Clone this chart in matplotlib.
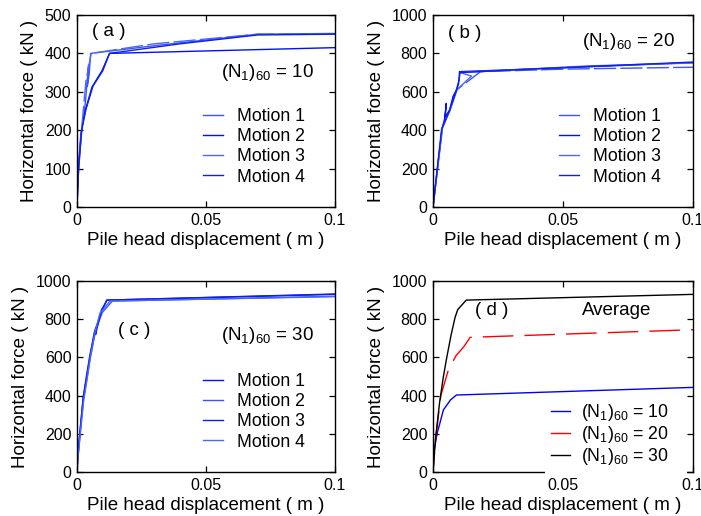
import matplotlib
matplotlib.use("Agg")
import matplotlib.pyplot as plt
from matplotlib.patches import Rectangle
from matplotlib.lines import Line2D

plt.rcParams["font.family"] = ["Liberation Sans", "DejaVu Sans"]
plt.rcParams["mathtext.fontset"] = "custom"
plt.rcParams["mathtext.rm"] = "Liberation Sans"
plt.rcParams["mathtext.it"] = "Liberation Sans"
plt.rcParams["mathtext.bf"] = "Liberation Sans"

# ---------------- data: pile head displacement (m) vs horizontal force (kN)
# (a) (N1)60 = 10
a_m1_x = [0, 0.0003, 0.0012, 0.0020, 0.0032, 0.0045, 0.0040, 0.0047, 0.0053, 0.030, 0.070, 0.100]
a_m1_y = [0, 60, 150, 210, 270, 370, 315, 345, 400, 420, 450, 452]
a_m2_x = [0, 0.0005, 0.0015, 0.0032, 0.0058, 0.0097, 0.0126, 0.100]
a_m2_y = [0, 100, 190, 251, 312, 355, 400, 415]
a_m3_x = [0, 0.0004, 0.0015, 0.0026, 0.0035, 0.0055, 0.030, 0.070, 0.100]
a_m3_y = [0, 80, 180, 265, 330, 400, 425, 450, 451]
a_m4_x = [0, 0.0006, 0.0018, 0.0035, 0.0062, 0.0100, 0.0126, 0.040, 0.070, 0.100]
a_m4_y = [0, 100, 200, 255, 315, 355, 400, 425, 448, 450]

# (b) (N1)60 = 20
b_m1_x = [0, 0.0035, 0.0064, 0.0090, 0.0183, 0.050, 0.100]
b_m1_y = [0, 410, 505, 609, 705, 718, 728]
b_m2_x = [0, 0.0035, 0.0045, 0.0051, 0.0047, 0.0064, 0.0077, 0.0090, 0.0100, 0.0102, 0.050, 0.100]
b_m2_y = [0, 409, 461, 540, 470, 505, 576, 609, 661, 705, 725, 752]
b_m3_x = [0, 0.0037, 0.0066, 0.0093, 0.0148, 0.0105, 0.060, 0.100]
b_m3_y = [0, 415, 505, 612, 682, 700, 735, 750]
b_m4_x = [0, 0.0033, 0.0063, 0.0088, 0.0098, 0.0104, 0.040, 0.100]
b_m4_y = [0, 405, 500, 600, 640, 700, 720, 755]

# (c) (N1)60 = 30
c_m1_x = [0, 0.0003, 0.0012, 0.0024, 0.0038, 0.0050, 0.0070, 0.0096, 0.0115, 0.100]
c_m1_y = [0, 80, 215, 388, 500, 600, 744, 840, 900, 930]
c_m2_x = [0, 0.0004, 0.0013, 0.0025, 0.0040, 0.0052, 0.0072, 0.0098, 0.0137, 0.100]
c_m2_y = [0, 80, 210, 380, 500, 600, 740, 835, 895, 920]
c_m3_x = [0, 0.0003, 0.0012, 0.0024, 0.0037, 0.0049, 0.0068, 0.0075, 0.0072, 0.0095, 0.0117, 0.100]
c_m3_y = [0, 85, 220, 390, 505, 605, 735, 745, 720, 850, 900, 932]
c_m4_x = [0, 0.0004, 0.0013, 0.0026, 0.0040, 0.0051, 0.0071, 0.0089, 0.0101, 0.0128, 0.100]
c_m4_y = [0, 75, 205, 375, 495, 598, 738, 832, 850, 895, 918]

# (d) averages
d_n10_x = [0, 0.0004, 0.0016, 0.0040, 0.0067, 0.0090, 0.100]
d_n10_y = [0, 110, 202, 325, 377, 403, 443]
d_n20_x = [0, 0.0010, 0.0030, 0.0059, 0.0089, 0.0118, 0.0143, 0.100]
d_n20_y = [0, 170, 400, 534, 610, 655, 705, 745]
d_n30_x = [0, 0.0010, 0.0025, 0.0040, 0.0053, 0.0070, 0.0085, 0.0095, 0.0128, 0.100]
d_n30_y = [0, 180, 360, 500, 600, 720, 810, 850, 900, 930]

motion_labels = ["Motion 1", "Motion 2", "Motion 3", "Motion 4"]
avg_labels = [r"(N$_1$)$_{60}$ = 10", r"(N$_1$)$_{60}$ = 20", r"(N$_1$)$_{60}$ = 30"]
xticks = [0, 0.05, 0.1]
xticklabels = ["0", "0.05", "0.1"]

TICK_FS = 11.5
LABEL_FS = 13.5
LEG_FS = 12.7
NOTE_FS = 13.5

fig = plt.figure(figsize=(7.01, 5.16), dpi=100)
W, H = 701.0, 516.0


def make_axes(left, right, top, bottom):
    return fig.add_axes([left / W, 1 - bottom / H, (right - left) / W, (bottom - top) / H])


ax_a = make_axes(77, 335, 15, 207)
ax_b = make_axes(433, 693, 15, 207)
ax_c = make_axes(77, 335, 281, 472)
ax_d = make_axes(433, 693, 281, 472)


def style(ax, ymax, ystep):
    ax.set_xlim(0, 0.1)
    ax.set_ylim(0, ymax)
    ax.set_xticks(xticks)
    ax.set_xticklabels(xticklabels)
    ax.set_yticks(list(range(0, ymax + 1, ystep)))
    ax.tick_params(direction="in", top=True, right=True, length=4, width=0.9,
                   labelsize=TICK_FS, pad=4)
    for s in ax.spines.values():
        s.set_linewidth(1.0)
    ax.set_xlabel("Pile head displacement ( m )", fontsize=LABEL_FS, labelpad=3)
    ax.set_ylabel("Horizontal force ( kN )", fontsize=LABEL_FS, labelpad=5)


def solid_handles(lines):
    # legend keys are drawn as short solid strokes in each curve's colour
    return [Line2D([], [], color=ln.get_color(), lw=1.0) for ln in lines]


blues = ["#3a55ff", "#0010ff", "#4a66ff", "#1020e0"]
long_dash = (0, (16, 3))

# (a)
la = [
    ax_a.plot(a_m1_x, a_m1_y, color=blues[0], lw=1.0)[0],
    ax_a.plot(a_m2_x, a_m2_y, color=blues[1], lw=1.0)[0],
    ax_a.plot(a_m3_x, a_m3_y, color=blues[2], lw=1.0, ls=long_dash)[0],
    ax_a.plot(a_m4_x, a_m4_y, color=blues[3], lw=1.0)[0],
]
style(ax_a, 500, 100)
ax_a.text(0.006, 458, "( a )", fontsize=NOTE_FS, va="center", ha="left")
ax_a.text(0.056, 349, r"(N$_1$)$_{60}$ = 10", fontsize=NOTE_FS, va="center", ha="left")

# (b)
lb = [
    ax_b.plot(b_m1_x, b_m1_y, color=blues[0], lw=1.0, ls=long_dash)[0],
    ax_b.plot(b_m2_x, b_m2_y, color=blues[1], lw=1.0)[0],
    ax_b.plot(b_m3_x, b_m3_y, color=blues[2], lw=1.0)[0],
    ax_b.plot(b_m4_x, b_m4_y, color=blues[3], lw=1.0)[0],
]
style(ax_b, 1000, 200)
ax_b.text(0.0058, 905, "( b )", fontsize=NOTE_FS, va="center", ha="left")
ax_b.text(0.0574, 860, r"(N$_1$)$_{60}$ = 20", fontsize=NOTE_FS, va="center", ha="left")

# (c)
lc = [
    ax_c.plot(c_m1_x, c_m1_y, color=blues[1], lw=1.0)[0],
    ax_c.plot(c_m2_x, c_m2_y, color=blues[0], lw=1.0)[0],
    ax_c.plot(c_m3_x, c_m3_y, color=blues[3], lw=1.0)[0],
    ax_c.plot(c_m4_x, c_m4_y, color=blues[2], lw=1.0)[0],
]
style(ax_c, 1000, 200)
ax_c.text(0.0160, 742, "( c )", fontsize=NOTE_FS, va="center", ha="left")
ax_c.text(0.056, 715, r"(N$_1$)$_{60}$ = 30", fontsize=NOTE_FS, va="center", ha="left")

# (d)
ld = [
    ax_d.plot(d_n10_x, d_n10_y, color="#0000ff", lw=1.0)[0],
    ax_d.plot(d_n20_x, d_n20_y, color="#ff0000", lw=1.0, ls=(8, (22, 8)))[0],
    ax_d.plot(d_n30_x, d_n30_y, color="#000000", lw=1.0)[0],
]
style(ax_d, 1000, 200)
ax_d.text(0.0162, 843, "( d )", fontsize=NOTE_FS, va="center", ha="left")
ax_d.text(0.0573, 848, "Average", fontsize=NOTE_FS, va="center", ha="left")

leg_kw = dict(fontsize=LEG_FS, frameon=False, handlelength=1.15, handletextpad=0.75,
              labelspacing=0.18, borderpad=0, borderaxespad=0, loc="upper left")
ax_a.legend(solid_handles(la), motion_labels,
            bbox_to_anchor=((203 - 77) / 258, (207 - 108) / 192), **leg_kw)
ax_b.legend(solid_handles(lb), motion_labels,
            bbox_to_anchor=((559 - 433) / 260, (207 - 108) / 192), **leg_kw)
ax_c.legend(solid_handles(lc), motion_labels,
            bbox_to_anchor=((203 - 77) / 258, (472 - 373) / 191), **leg_kw)

# white backing of the averages legend, drawn over the lower-right frame
ax_d.add_patch(Rectangle(((545 - 433) / 260, (472 - 476) / 191),
                         (687 - 545) / 260, (476 - 394) / 191,
                         transform=ax_d.transAxes, facecolor="white", edgecolor="none",
                         clip_on=False, zorder=2.6))
leg_d = ax_d.legend(solid_handles(ld), avg_labels,
                    fontsize=LEG_FS, frameon=False, handlelength=1.1, handletextpad=0.6,
                    labelspacing=0.06, borderpad=0, borderaxespad=0, loc="upper left",
                    bbox_to_anchor=((551 - 433) / 260, (472 - 402) / 191))
leg_d.set_zorder(10)

fig.savefig("out.png", dpi=100)
